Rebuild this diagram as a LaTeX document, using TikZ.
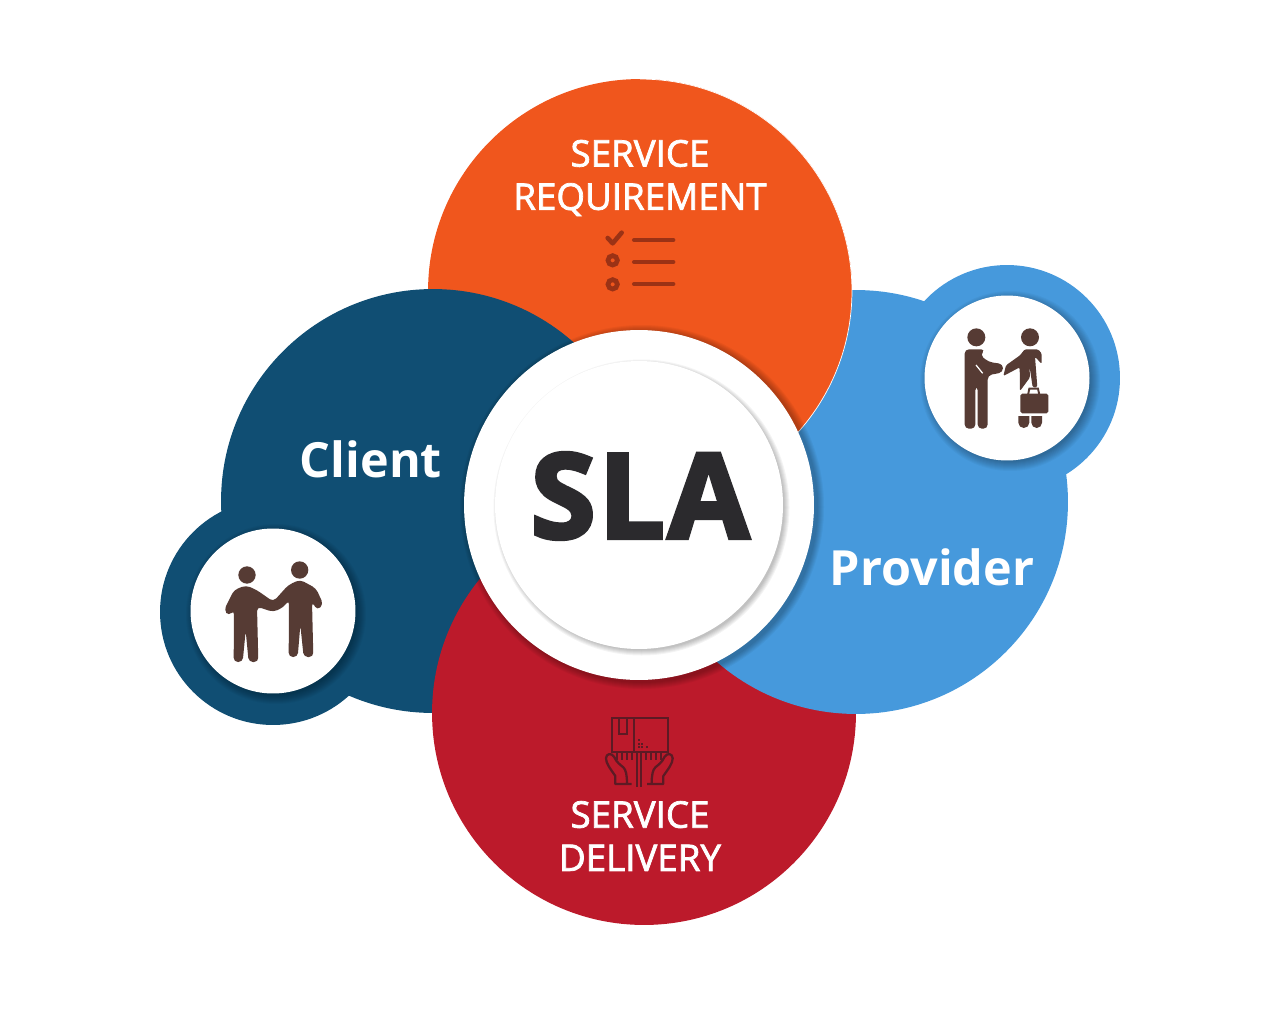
\documentclass[tikz,border=0pt]{standalone}
\usepackage{fontspec}
\setmainfont{Open Sans}
\newfontfamily\heavyfont[FakeBold=3.4,LetterSpace=2.5]{Open Sans Bold}
\newfontfamily\semifont[FakeBold=2]{Open Sans}
\definecolor{slaorange}{HTML}{F0561D}
\definecolor{slanavy}{HTML}{104E73}
\definecolor{slablue}{HTML}{4699DC}
\definecolor{slared}{HTML}{BC1A2B}
\definecolor{slabrown}{HTML}{563B34}
\definecolor{slatick}{HTML}{9B3215}
\definecolor{slabox}{HTML}{5D1A24}
\definecolor{sladark}{HTML}{2B2A2D}
\tikzstyle{big}=[circle,minimum size=8.48cm,inner sep=0pt,outer sep=0pt]
\tikzstyle{lobe}=[circle,minimum size=4.52cm,inner sep=0pt,outer sep=0pt]
\tikzstyle{hole}=[circle,fill=white,minimum size=3.3cm,inner sep=0pt,outer sep=0pt]
\tikzstyle{hub}=[circle,fill=white,inner sep=0pt,outer sep=0pt]
\tikzstyle{caption}=[text=white,align=center,inner sep=0pt,font=\fontsize{20.9}{24.6}\selectfont\semifont]
\tikzstyle{party}=[text=white,inner sep=0pt,font=\fontsize{27.6}{32}\selectfont\bfseries]

\begin{document}
\begin{tikzpicture}[x=0.02cm,y=-0.02cm]
    \useasboundingbox (0,0) rectangle (1280,1024);
    %Big circles
    \node[lobe,fill=slablue] (providerlobe) at (1007,378) {};
    \node[lobe,fill=slanavy] (clientlobe) at (273,612) {};
    \foreach \pos/\name/\col in {{(640,291)/requirement/slaorange},{(433,501)/client/slanavy},
                                 {(644,713)/delivery/slared},{(856,502)/provider/slablue}}
    \node[big,fill=\col] (\name) at \pos {};
    %Orange lies on the blue one
    \begin{scope}
        \clip (640,0) rectangle (1280,500);
        \node[big,fill=slaorange,draw=white,line width=0.4pt] (requirementtop) at (640,291) {};
    \end{scope}
    %Soft shadows
    \foreach \i in {1,...,7}
    \fill[black,opacity=0.04] (642,507) circle ({175+\i});
    \foreach \pos in {(1010,381),(276,614)}
    \foreach \i in {1,...,10}
    \fill[black,opacity=0.03] \pos circle ({80+\i});
    %White circles
    \node[hub,minimum size=7cm] (outerhub) at (639,505) {};
    \foreach \i in {1,...,6}
    \fill[black,opacity=0.045] (641.5,507.5) circle ({142+\i});
    \node[hub,minimum size=5.76cm] (innerhub) at (639,505) {};
    \node[hole] (providerhole) at (1007,378) {};
    \node[hole] (clienthole) at (273,611) {};
    %Texts
    \node[inner sep=0pt,text=sladark,font=\fontsize{67}{67}\selectfont\heavyfont] (sla) at (640,496) {SLA};
    \node[party] (clientname) at (371,459) {Client};
    \node[party] (providername) at (932,567) {Provider};
    \node[caption] (requirementname) at (640,178) {SERVICE\\REQUIREMENT};
    \node[caption] (deliveryname) at (640,836) {SERVICE\\DELIVERY};
    %Checklist
    \begin{scope}[shift={(590,220)},scale=1/3,line cap=round,draw=slatick]
        \draw[line width=2.6pt,line join=round] (53,54) -- (68,70) -- (95,38);
        \foreach \y in {121,193}
        \draw[line width=2.7pt] (68,\y) circle (14);
        \foreach \y in {60,126,192}
        \draw[line width=2.3pt] (132,\y) -- (250,\y);
    \end{scope}
    %Parcel and hands
    \begin{scope}[shift={(590,710)},scale=1/3,draw=slabox,line width=1.3pt]
        \draw (65,25) rectangle (235,125);
        \draw (133,25) -- (133,125);
        \draw (88,25) -- (88,72) -- (110,72) -- (110,25);
        \foreach \x/\y in {146/90,146/101,146/112,157/101,157/112,172/112}
        \fill[slabox] (\x-3,\y-3) rectangle (\x+3,\y+3);
        \foreach \x in {142,154}
        \draw (\x,125) -- (\x,230);
        \foreach \x in {82,97,112,127,169,184,199,214}
        \draw (\x,125) -- (\x,150);
        \foreach \m/\s in {0/1,296/-1}{
            \begin{scope}[shift={(\m,0)},xscale=\s]
                \draw[line join=round] (125,222) -- (76,222) -- (76,198) .. controls (60,175) and (48,160) .. (48,145)
                    .. controls (48,130) and (65,128) .. (72,140) .. controls (80,158) and (92,165) .. (100,172)
                    .. controls (108,180) and (111,195) .. (111,222);
            \end{scope}
        }
    \end{scope}
    %Two friends
    \begin{scope}[shift={(160,510)},scale=1/3]
        \fill[slabrown] (261,195) circle (26) (419,180) circle (26);
        \fill[slabrown,rounded corners=2.4pt] (192,300) -- (206,318) -- (222,300) -- (221,456) -- (248,456) -- (257,362)
            -- (266,456) -- (295,456) -- (291,290) -- (340,306) -- (370,292) -- (387,270) -- (386,441) -- (413,441) -- (421,345)
            -- (431,441) -- (460,441) -- (456,275) -- (472,301) -- (490,283) -- (468,235) -- (420,209) -- (385,225)
            -- (340,275) -- (290,240) -- (258,226) -- (222,240) -- cycle;
    \end{scope}
    %Two with a case
    \begin{scope}[shift={(920,290)},scale=1/3]
        \fill[slabrown] (169,142) circle (27) (330,142) circle (27);
        \fill[slabrown,rounded corners=2.4pt] (134,178) -- (134,416) -- (166,416) -- (166,288) -- (173,288) -- (173,416) -- (203,416)
            -- (203,256) -- (249,247) -- (249,222) -- (206,216) -- (180,195) -- (196,178) -- cycle;
        \draw[white,line width=0.7pt] (168,225) -- (188,250);
        \fill[slabrown,rounded corners=0.8pt] (250,258) -- (258,226) -- (300,196) -- (314,178) -- (354,178) -- (365,190) -- (365,222)
            -- (345,200) -- (352,292) -- (338,292) -- (328,225) -- (330,262) -- (300,303) -- (299,232) -- cycle;
        \draw[slabrown,line width=1.1pt] (324,315) -- (328,296) -- (354,296) -- (358,315);
        \fill[slabrown,rounded corners=1pt] (301,311) rectangle (385,370);
        \fill[slabrown] (295,378) -- (328,378) -- (328,398) arc (0:180:16.5 and 16) -- cycle;
        \fill[slabrown] (334,378) -- (366,378) -- (366,398) arc (0:180:16 and 16) -- cycle;
    \end{scope}
\end{tikzpicture}
\end{document}
